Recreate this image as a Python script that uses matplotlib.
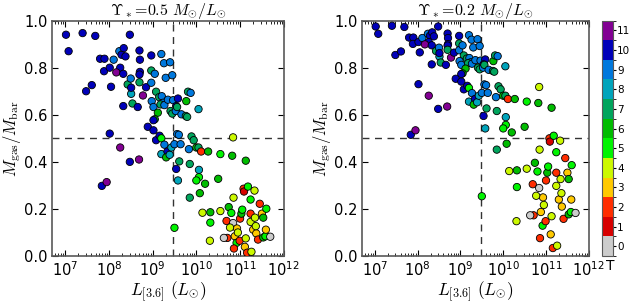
import numpy as np
import matplotlib
matplotlib.use("Agg")
import matplotlib.pyplot as plt
from matplotlib.colors import ListedColormap, BoundaryNorm

plt.rcParams['font.family'] = ['DejaVu Sans']
plt.rcParams['mathtext.fontset'] = 'cm'

# log10 of 3.6 micron luminosity (Lsun), Hubble type T, gas fraction for the two M/L
logL = [7.02, 7.08, 7.40, 7.69, 8.48, 7.48, 7.61, 7.80, 7.90, 7.89,
        8.02, 8.11, 8.24, 8.29, 8.34, 8.38, 8.26, 8.17, 8.33, 8.05,
        8.43, 8.50, 8.51, 8.33, 8.54, 8.51, 8.70, 8.71, 8.71, 8.70,
        8.70, 8.78, 8.85, 8.66, 8.97, 8.97, 8.97, 9.05, 9.08, 8.98,
        9.20, 9.26, 9.30, 9.40, 9.45, 9.15, 9.21, 9.02, 9.24, 9.18,
        9.27, 9.35, 9.47, 9.58, 9.54, 9.41, 9.45, 9.53, 9.56, 9.77,
        9.81, 9.87, 9.66, 9.76, 9.79, 10.05, 9.12, 9.05, 9.02, 8.89,
        9.02, 9.08, 9.16, 9.20, 9.27, 9.20, 9.34, 9.31, 9.39, 9.43,
        9.50, 9.56, 9.60, 9.64, 9.54, 9.61, 9.58, 9.83, 9.89, 9.94,
        10.00, 10.05, 10.11, 10.27, 10.06, 10.06, 10.00, 9.85, 10.20, 9.85,
        10.08, 9.50, 10.50, 10.55, 10.82, 10.84, 11.13, 8.02, 8.26, 8.48,
        8.69, 7.84, 7.95, 10.14, 10.32, 10.32, 10.31, 10.55, 10.69, 10.74,
        10.80, 10.84, 10.71, 10.85, 10.93, 10.88, 10.92, 10.86, 10.99, 11.11,
        11.16, 11.26, 11.13, 10.77, 11.00, 11.03, 11.05, 11.24, 11.08, 11.09,
        11.18, 11.24, 11.33, 11.24, 11.30, 11.37, 11.36, 11.34, 11.45, 11.50,
        11.53, 11.60, 11.41, 11.53, 11.58, 11.59, 11.69, 10.63, 10.95]

htype = [10, 10, 10, 10, 10, 10, 10, 10, 10, 10,
         10, 9, 9, 10, 10, 10, 10, 11, 10, 10,
         7, 9, 8, 10, 7, 10, 10, 10, 10, 10,
         7, 11, 10, 10, 10, 7, 9, 9, 7, 9,
         9, 9, 9, 9, 9, 7, 9, 9, 9, 7,
         9, 9, 9, 10, 10, 7, 7, 9, 7, 6,
         7, 9, 9, 7, 7, 8, 6, 6, 10, 10,
         10, 10, 10, 5, 9, 8, 10, 6, 8, 8,
         9, 9, 9, 9, 10, 7, 8, 9, 7, 7,
         6, 7, 2, 6, 8, 5, 5, 7, 6, 7,
         6, 5, 6, 5, 6, 4, 6, 10, 11, 10,
         11, 10, 11, 4, 6, 5, 4, 4, 2, 6,
         5, 0, 2, 4, 3, 3, 5, 2, 2, 3,
         2, 4, 4, 4, 2, 6, 5, 2, 2, 1,
         5, 5, 4, 4, 3, 3, 4, 4, 2, 3,
         6, 5, 2, 6, 5, 3, 0, 0, 4]

fgas_05 = [0.940, 0.870, 0.947, 0.935, 0.940, 0.700, 0.726, 0.838, 0.838, 0.785,
           0.800, 0.834, 0.870, 0.855, 0.883, 0.848, 0.800, 0.780, 0.774, 0.719,
           0.729, 0.754, 0.689, 0.637, 0.648, 0.715, 0.873, 0.834, 0.782, 0.771,
           0.738, 0.682, 0.717, 0.633, 0.852, 0.788, 0.736, 0.774, 0.698, 0.658,
           0.858, 0.819, 0.757, 0.823, 0.768, 0.675, 0.679, 0.633, 0.651, 0.644,
           0.641, 0.664, 0.662, 0.669, 0.637, 0.616, 0.605, 0.616, 0.633, 0.658,
           0.698, 0.693, 0.602, 0.595, 0.591, 0.624, 0.609, 0.581, 0.577, 0.549,
           0.534, 0.492, 0.511, 0.500, 0.473, 0.433, 0.444, 0.419, 0.430, 0.461,
           0.475, 0.518, 0.515, 0.475, 0.370, 0.402, 0.321, 0.454, 0.508, 0.492,
           0.461, 0.461, 0.444, 0.444, 0.366, 0.335, 0.321, 0.391, 0.307, 0.248,
           0.267, 0.120, 0.328, 0.433, 0.426, 0.504, 0.405, 0.520, 0.461, 0.400,
           0.410, 0.298, 0.314, 0.184, 0.186, 0.142, 0.065, 0.191, 0.149, 0.208,
           0.183, 0.140, 0.077, 0.248, 0.117, 0.084, 0.056, 0.032, 0.065, 0.039,
           0.014, 0.018, 0.075, 0.121, 0.159, 0.180, 0.197, 0.180, 0.286, 0.274,
           0.295, 0.240, 0.278, 0.145, 0.112, 0.096, 0.127, 0.163, 0.222, 0.180,
           0.163, 0.201, 0.070, 0.079, 0.084, 0.112, 0.082, 0.077, 0.100]

fgas_02 = [0.975, 0.944, 0.978, 0.973, 0.975, 0.854, 0.869, 0.928, 0.928, 0.901,
           0.909, 0.926, 0.944, 0.936, 0.950, 0.933, 0.909, 0.899, 0.895, 0.865,
           0.871, 0.885, 0.847, 0.814, 0.822, 0.862, 0.945, 0.926, 0.900, 0.894,
           0.876, 0.843, 0.864, 0.812, 0.935, 0.903, 0.874, 0.895, 0.852, 0.828,
           0.938, 0.919, 0.886, 0.921, 0.892, 0.839, 0.841, 0.812, 0.823, 0.819,
           0.817, 0.832, 0.830, 0.835, 0.814, 0.800, 0.793, 0.800, 0.812, 0.828,
           0.852, 0.849, 0.791, 0.786, 0.783, 0.806, 0.796, 0.776, 0.773, 0.753,
           0.741, 0.708, 0.723, 0.714, 0.692, 0.656, 0.667, 0.643, 0.653, 0.681,
           0.693, 0.729, 0.726, 0.693, 0.595, 0.627, 0.542, 0.675, 0.721, 0.708,
           0.681, 0.681, 0.667, 0.667, 0.590, 0.557, 0.542, 0.616, 0.525, 0.452,
           0.477, 0.254, 0.549, 0.656, 0.650, 0.718, 0.630, 0.730, 0.681, 0.625,
           0.635, 0.515, 0.534, 0.361, 0.364, 0.293, 0.148, 0.371, 0.305, 0.396,
           0.359, 0.289, 0.173, 0.452, 0.249, 0.187, 0.129, 0.076, 0.148, 0.092,
           0.034, 0.044, 0.169, 0.256, 0.321, 0.354, 0.380, 0.354, 0.500, 0.486,
           0.511, 0.441, 0.490, 0.298, 0.240, 0.210, 0.267, 0.327, 0.416, 0.354,
           0.327, 0.386, 0.158, 0.177, 0.187, 0.240, 0.183, 0.173, 0.217]

titles = [r'$\Upsilon_*\!=\!0.5\ M_{\odot}/L_{\odot}$', r'$\Upsilon_*\!=\!0.2\ M_{\odot}/L_{\odot}$']
cbar_ticks = list(range(12))

L = 10 ** np.array(logL)
cols = [plt.cm.nipy_spectral(1 - k / 12.0) for k in range(12)]
cmap = ListedColormap(cols)
norm = BoundaryNorm(np.arange(-0.5, 12.0, 1.0), 12)

fig = plt.figure(figsize=(6.3, 3.03), dpi=100)
ax1 = fig.add_axes([0.0825, 0.155, 0.368, 0.777])
ax2 = fig.add_axes([0.5746, 0.155, 0.360, 0.777])
cax = fig.add_axes([0.9556, 0.155, 0.0175, 0.777])

for ax, fg, tt in zip([ax1, ax2], [fgas_05, fgas_02], titles):
    sc = ax.scatter(L, fg, c=htype, cmap=cmap, norm=norm, s=28,
                    edgecolors='k', linewidths=0.6, zorder=3)
    ax.axhline(0.5, color='0.2', ls='--', lw=1.0, dashes=(5, 4), zorder=2)
    ax.axvline(3e9, color='0.2', ls='--', lw=1.0, dashes=(5, 4), zorder=2)
    ax.set_xscale('log')
    ax.set_xlim(10 ** 6.7, 1e12)
    ax.set_ylim(0, 1.0)
    ax.set_yticks([0.0, 0.2, 0.4, 0.6, 0.8, 1.0])
    ax.tick_params(which='both', direction='in', top=True, right=True, labelsize=10.5)
    ax.tick_params(which='major', length=4)
    ax.tick_params(which='minor', length=2)
    ax.tick_params(axis='x', pad=3)
    ax.tick_params(axis='y', pad=3)
    for sp in ax.spines.values():
        sp.set_color('0.35')
        sp.set_linewidth(1.2)
    ax.set_xlabel(r'$L_{[3.6]}\ (L_{\odot})$', fontsize=12.5, labelpad=0)
    ax.set_ylabel(r'$M_{\rm gas}/M_{\rm bar}$', fontsize=12, labelpad=1)
    ax.set_title(tt, fontsize=11.5, pad=0)

cb = fig.colorbar(sc, cax=cax, ticks=cbar_ticks)
cb.ax.tick_params(labelsize=7.5, length=2, pad=1)
cb.outline.set_edgecolor('0.35')
cax.text(0.75, -0.012, 'T', transform=cax.transAxes, ha='center', va='top', fontsize=10)

fig.savefig('out.png', dpi=100, facecolor='white')
